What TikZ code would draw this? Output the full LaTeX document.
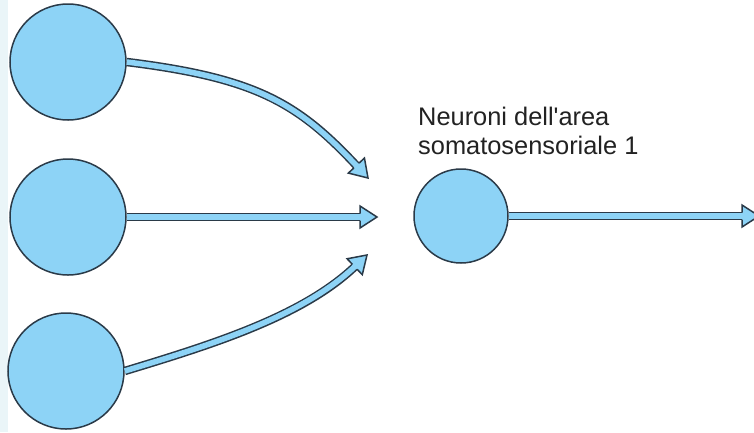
\documentclass[tikz,border=0pt]{standalone}
\usepackage{fontspec}
\setmainfont{Liberation Sans}
\usetikzlibrary{decorations.markings}
\definecolor{cfill}{HTML}{8DD3F6}
\definecolor{cline}{HTML}{2A3A48}
\definecolor{strip}{HTML}{EAF5F8}
\definecolor{ctext}{HTML}{222222}
\tikzset{
  neuron/.style={circle, draw=cline, line width=1.5pt, fill=cfill, inner sep=0pt},
  shaftout/.style={draw=cline, line width=8.5pt, shorten >=16.5pt},
  shaftin/.style={draw=cfill, line width=5.5pt, shorten >=15pt},
  headmark/.style={postaction={decorate}, decoration={markings, mark=at position 1 with {
      \fill[cfill] (-17pt,4.25pt) -- (-17pt,11pt) -- (0pt,0pt) -- (-17pt,-11pt) -- (-17pt,-4.25pt) -- cycle;
      \draw[cline, line width=1.5pt, line join=miter]
        (-17pt,3.5pt) -- (-17pt,11pt) -- (0pt,0pt) -- (-17pt,-11pt) -- (-17pt,-3.5pt);
    }}},
  label/.style={font=\fontsize{25.4}{29}\selectfont, text=ctext, align=left, inner sep=0pt, anchor=north west}
}
\newcommand\fatarrow[1]{\draw[shaftout] #1; \draw[shaftin] #1; \path[headmark] #1;}
\begin{document}
\begin{tikzpicture}[x=1pt,y=-1pt]
\useasboundingbox (0,0) rectangle (754,432);
\fill[white] (0,0) rectangle (754,432);
\fill[strip] (0,0) rectangle (8,432);
\node[neuron, minimum size=116pt] (n1) at (68,62) {};
\node[neuron, minimum size=116pt] (n2) at (68,217) {};
\node[neuron, minimum size=116pt] (n3) at (66,371) {};
\node[neuron, minimum size=94pt] (m) at (461,216) {};
\coordinate (t1) at (368,178);
\coordinate (t2) at (377,217);
\coordinate (t3) at (367,255);
\coordinate (t4) at (759,216);
\fatarrow{(n1.east) .. controls (256,78) and (298,103) .. (t1)}
\fatarrow{(n2.east) -- (t2)}
\fatarrow{(n3.east) .. controls (214,344) and (303,316) .. (t3)}
\fatarrow{(m.east) -- (t4)}
\node[label] (lab) at (418,107) {Neuroni dell\textquotesingle area\\somatosensoriale 1};
\end{tikzpicture}
\end{document}
